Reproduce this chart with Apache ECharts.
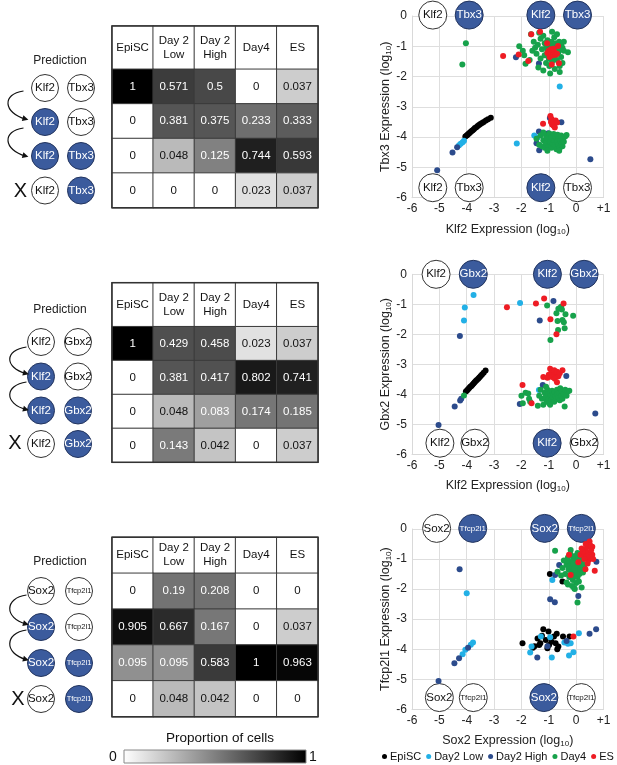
<!DOCTYPE html>
<html><head><meta charset="utf-8">
<script src="https://cdn.jsdelivr.net/npm/echarts@6/dist/echarts.min.js"></script>
<style>html,body{margin:0;padding:0;background:#fff}#c{width:617px;height:765px}</style>
</head><body><div id="c"></div><script>
// ---------------- DATA ----------------
const stages = ['EpiSC', 'Day 2\nLow', 'Day 2\nHigh', 'Day4', 'ES'];
const rowsCat = ['r0', 'r1', 'r2', 'r3'];
const geneA = ['Klf2', 'Klf2', 'Sox2'];
const geneB = ['Tbx3', 'Gbx2', 'Tfcp2l1'];
const predStates = [[0, 0], [1, 0], [1, 1], [0, 1]];
const table1 = [[1, 0.571, 0.5, 0, 0.037], [0, 0.381, 0.375, 0.233, 0.333], [0, 0.048, 0.125, 0.744, 0.593], [0, 0, 0, 0.023, 0.037]];
const table2 = [[1, 0.429, 0.458, 0.023, 0.037], [0, 0.381, 0.417, 0.802, 0.741], [0, 0.048, 0.083, 0.174, 0.185], [0, 0.143, 0.042, 0, 0.037]];
const table3 = [[0, 0.19, 0.208, 0, 0], [0.905, 0.667, 0.167, 0, 0.037], [0.095, 0.095, 0.583, 1, 0.963], [0, 0.048, 0.042, 0, 0]];
const groups = ['EpiSC', 'Day2 Low', 'Day2 High', 'Day4', 'ES'];
const xTickValues = [-6, -5, -4, -3, -2, -1, 0, 1];
const colorbarLabels = ['0', '1'];

// Plot 1: Klf2 vs Tbx3
const p1EpiSC = [[-4.05,-3.98],[-4.0,-3.95],[-3.97,-3.92],[-3.93,-3.89],[-3.9,-3.86],[-3.86,-3.83],[-3.82,-3.8],[-3.78,-3.77],[-3.74,-3.74],[-3.7,-3.7],[-3.65,-3.67],[-3.6,-3.63],[-3.55,-3.6],[-3.5,-3.57],[-3.44,-3.53],[-3.38,-3.5],[-3.3,-3.45],[-3.22,-3.41],[-3.12,-3.36]];
const p1Day2Low = [[-4.1,-4.12],[-4.15,-4.17],[-4.22,-4.22],[-4.28,-4.27],[-0.6,-2.33],[-1.53,-3.95],[-1.42,-4.02],[-2.17,-4.21]];
const p1Day2High = [[-4.35,-4.33],[-4.52,-4.51],[-5.08,-5.09],[0.52,-4.73],[-2.2,-1.36],[-1.36,-1.57],[-0.96,-3.37],[-0.54,-3.51],[-1.36,-3.81],[-1.02,-3.87],[-1.45,-4.2],[-1.35,-4.43]];
const p1Day4 = [[-4.03,-0.9],[-4.16,-1.6],
 [-2.08,-1.0],[-1.95,-1.15],[-1.9,-1.3],[-1.85,-1.58],[-1.7,-1.45],[-1.6,-1.15],[-1.55,-0.85],[-1.5,-1.05],[-1.45,-1.25],[-1.4,-0.95],[-1.38,-1.7],[-1.3,-0.75],[-1.3,-1.4],[-1.25,-1.1],[-1.2,-0.65],[-1.2,-1.8],[-1.15,-0.9],[-1.15,-1.3],[-1.1,-1.05],[-1.1,-1.55],[-1.05,-0.8],[-1.05,-1.2],[-1.0,-0.95],[-1.0,-1.4],[-0.98,-1.65],[-0.95,-1.1],[-0.95,-1.9],[-0.9,-0.85],[-0.9,-1.25],[-0.88,-1.5],[-0.85,-1.0],[-0.82,-1.15],[-0.8,-0.7],[-0.8,-1.35],[-0.78,-1.75],[-0.75,-0.9],[-0.75,-1.1],[-0.72,-1.25],[-0.7,-0.6],[-0.7,-1.45],[-0.68,-1.0],[-0.65,-1.2],[-0.62,-0.85],[-0.6,-1.65],[-0.6,-1.85],[-0.58,-1.1],[-0.55,-0.95],[-0.55,-1.35],[-0.5,-1.05],[-0.5,-1.55],[-0.45,-0.85],[-0.45,-1.15],[-0.3,-1.2],[-1.65,-0.6],[-1.35,-0.55],[-0.88,-0.52],
 [-1.45,-4.05],[-1.35,-4.25],[-1.3,-3.95],[-1.25,-4.3],[-1.2,-4.1],[-1.15,-4.35],[-1.1,-3.95],[-1.1,-4.2],[-1.05,-4.05],[-1.0,-4.3],[-0.98,-3.88],[-0.95,-4.15],[-0.9,-4.0],[-0.9,-4.35],[-0.85,-4.22],[-0.82,-3.9],[-0.8,-4.1],[-0.78,-4.28],[-0.75,-4.0],[-0.72,-4.4],[-0.7,-4.15],[-0.68,-3.92],[-0.65,-4.25],[-0.62,-4.05],[-0.6,-4.35],[-0.58,-4.12],[-0.55,-3.95],[-0.52,-4.2],[-0.5,-4.3],[-0.48,-4.05],[-0.45,-4.15],[-0.4,-3.98],[-0.35,-3.93],[-1.2,-3.85],[-1.05,-4.45],[-0.62,-4.45]];
const p1ES = [[-2.67,-1.32],[-2.1,-1.27],[-1.75,-1.49],[-1.64,-0.6],[-1.32,-0.52],[-1.06,-0.9],[-0.66,-0.99],[-0.89,-1.6],[-0.63,-1.56],[-1.0,-1.15],[-0.95,-1.25],[-0.9,-1.2],[-0.85,-1.3],[-0.8,-1.2],[-0.92,-1.1],[-0.75,-1.28],[-1.05,-1.22],[-0.82,-1.08],[-0.97,-1.35],[-0.7,-1.25],
 [-0.94,-3.3],[-0.9,-3.4],[-0.85,-3.48],[-0.8,-3.55],[-1.21,-3.56],[-0.75,-3.45],[-0.88,-3.58],[-0.82,-3.62],[-0.7,-3.52],[-0.78,-3.68],[-0.92,-3.5]];

// Plot 2: Klf2 vs Gbx2
const p2EpiSC = [[-4.03,-3.91],[-3.99,-3.87],[-3.95,-3.83],[-3.91,-3.79],[-3.87,-3.75],[-3.83,-3.72],[-3.79,-3.68],[-3.75,-3.64],[-3.71,-3.6],[-3.67,-3.56],[-3.63,-3.52],[-3.58,-3.48],[-3.54,-3.44],[-3.49,-3.39],[-3.44,-3.34],[-3.38,-3.28],[-3.31,-3.21]];
const p2Day2Low = [[-3.75,-0.69],[-4.07,-1.11],[-4.1,-1.54],[-2.05,-0.96],[-1.36,-3.86]];
const p2Day2High = [[-4.25,-2.06],[-0.83,-0.89],[-1.33,-1.54],[-4.44,-4.41],[-4.24,-4.21],[-4.2,-4.15],[-5.03,-5.02],[0.7,-4.64],[-0.36,-3.39],[-1.22,-3.69],[-2.06,-4.32]];
const p2Day4 = [[-4.1,-4.04],
 [-1.06,-1.04],[-0.6,-1.13],[-0.55,-1.08],[-0.52,-1.17],[-0.72,-1.3],[-0.39,-1.33],[-0.11,-1.38],[-0.5,-1.52],[-0.68,-1.56],[-0.42,-1.8],[-0.66,-1.86],[-0.94,-2.19],[-0.65,-1.15],[-0.45,-1.6],
 [-2.0,-4.05],[-1.95,-4.3],[-1.85,-3.95],[-1.75,-3.97],[-1.72,-4.15],[-1.68,-4.25],[-1.4,-4.38],[-1.3,-3.85],[-1.25,-4.15],[-1.2,-4.35],[-1.15,-3.95],[-1.12,-4.1],[-1.08,-4.25],[-1.05,-3.85],[-1.02,-4.0],[-1.0,-4.15],[-0.98,-4.3],[-0.95,-3.95],[-0.92,-4.05],[-0.9,-4.2],[-0.88,-3.88],[-0.85,-4.1],[-0.82,-4.0],[-0.8,-4.25],[-0.78,-3.92],[-0.75,-4.05],[-0.72,-4.15],[-0.7,-3.85],[-0.68,-4.0],[-0.65,-4.1],[-0.62,-3.95],[-0.6,-4.2],[-0.58,-3.8],[-0.55,-4.05],[-0.52,-3.9],[-0.5,-4.15],[-0.45,-4.0],[-0.42,-4.41],[-0.4,-3.85],[-0.35,-4.05],[-0.3,-3.9],[-0.25,-3.88],[-1.1,-3.75],[-0.95,-4.35],[-1.35,-4.05]];
const p2ES = [[-2.53,-1.1],[-1.47,-0.97],[-1.17,-0.81],[-0.46,-0.97],[-0.94,-1.5],[-0.72,-2.0],
 [-0.95,-3.15],[-0.9,-3.22],[-0.85,-3.3],[-0.8,-3.2],[-0.75,-3.35],[-0.7,-3.25],[-0.65,-3.4],[-1.0,-3.35],[-1.05,-3.45],[-0.88,-3.42],[-0.78,-3.48],[-0.6,-3.3],[-1.2,-3.42],[-0.5,-3.2],[-1.96,-3.69],[-1.63,-4.3],[-0.7,-3.6]];

// Plot 3: Sox2 vs Tfcp2l1
const p3EpiSC = [[-0.96,-1.5],[-0.5,-1.75],[-1.96,-3.8],[-1.58,-3.95],[-1.52,-3.9],[-1.41,-3.64],[-1.31,-3.8],[-1.2,-3.34],[-1.01,-3.41],[-1.11,-3.69],[-0.99,-3.86],[-0.81,-3.58],[-0.75,-3.8],[-0.71,-3.49],[-0.65,-3.91],[-0.48,-3.58],[-0.24,-3.58],[-1.05,-3.97],[-0.69,-4.0],[-1.35,-3.86],[-0.9,-3.75],[-1.25,-3.55]];
const p3Day2Low = [[-4.0,-2.14],[-3.77,-3.78],[-3.85,-3.85],[-4.05,-4.02],[-4.15,-4.17],[-1.68,-4.11],[-1.63,-3.91],[-1.29,-3.58],[-0.89,-4.28],[-0.87,-1.7],[-0.26,-4.21],[-0.1,-4.1],[0.1,-3.47],[-0.2,-3.8],[-0.43,-3.78],[-0.3,-3.82],[-0.95,-3.6]];
const p3Day2High = [[-4.26,-1.34],[-5.03,-5.06],[-4.45,-4.47],[-3.95,-3.95],[-4.28,-4.3],[-0.62,-1.2],[-0.77,-1.53],[-0.95,-2.34],[-0.78,-2.44],[0.08,-2.23],[0.74,-1.09],[0.73,-3.34],[0.49,-3.49],[-1.42,-4.28],[-0.35,-3.73],[-0.15,-1.45],[-1.05,-3.9]];
const p3Day4 = [[-0.77,-0.72],[-0.68,-1.42],[-0.35,-1.78],[-0.07,-1.97],[0.2,-1.95],[0.05,-2.45],[-0.4,-1.5],[-0.35,-1.2],[-0.3,-0.95],[-0.28,-1.35],[-0.25,-1.6],[-0.22,-1.1],[-0.2,-0.85],[-0.18,-1.45],[-0.15,-1.25],[-0.12,-1.7],[-0.1,-1.0],[-0.08,-1.35],[-0.05,-1.55],[-0.03,-0.9],[0.0,-1.15],[0.0,-1.8],[0.02,-1.4],[0.05,-1.05],[0.05,-1.6],[0.08,-1.25],[0.1,-0.95],[0.12,-1.5],[0.15,-1.15],[0.15,-1.35],[0.18,-0.85],[0.2,-1.05],[0.22,-1.25],[0.25,-1.45],[0.28,-0.95],[-0.45,-1.05],[-0.5,-1.3],[-0.3,-1.85],[-0.15,-1.9],[-0.05,-2.0],[0.1,-1.75],[-0.55,-1.55],[-0.2,-0.7],[-0.25,-1.25],[-0.1,-1.15],[-0.05,-1.3],[0.05,-0.8],[-0.35,-1.05],[0.3,-1.2]];
const p3ES = [[-0.1,-3.58],[0.49,-0.42],[0.59,-0.59],[0.34,-0.7],[0.28,-0.86],[0.59,-0.86],[0.68,-1.39],[0.34,-1.34],[0.08,-1.11],[0.16,-0.86],[-0.26,-0.86],[-0.2,-1.53],[0.46,-1.03],[0.4,-0.6],[0.45,-0.8],[0.5,-0.95],[0.55,-0.7],[0.38,-0.92],[0.3,-1.0],[0.25,-0.75],[0.62,-1.0],[0.42,-1.15],[0.2,-0.65],[0.52,-0.55],[0.35,-0.5]];

// ---------------- LAYOUT / STYLE ----------------
const FONT = 'Liberation Sans, Arial, sans-serif';
const BLUE = '#3b5b9d', BLUE_BORDER = '#22345e';
const groupColors = ['#000000', '#22b0e6', '#2c4b8c', '#17a24b', '#ee1c24'];
const tableLayout = [
  { headTop: 26, headH: 43.3, bodyTop: 69.3, bodyH: 138.4 },
  { headTop: 282.7, headH: 44, bodyTop: 326.7, bodyH: 135.6 },
  { headTop: 537.3, headH: 36, bodyTop: 573.3, bodyH: 143.4 }
];
const tableLeft = 112, tableW = 206;
const scatterLayout = [{ top: 16, h: 181.7 }, { top: 274.3, h: 180 }, { top: 529, h: 180.3 }];
const scatterLeft = 412, scatterW = 191.5;
const predLayout = [
  { pred: [60, 61], cx: [45, 81], ys: [88, 122, 156, 190.5], arrows: [[23.5, 91, 25.5, 119], [23.5, 128, 25.5, 156]], X: [20.5, 191] },
  { pred: [60, 310], cx: [41, 78], ys: [342, 376.5, 410.5, 444], arrows: [[26.5, 347, 26, 373.5], [26.5, 382, 26, 409.5]], X: [15, 443] },
  { pred: [60, 562], cx: [41, 79], ys: [591, 627, 663, 699], arrows: [[26.5, 595, 26, 624], [26.5, 630, 26, 659.5]], X: [18, 699] }
];
const nodeLayout = [
  [[-5.24, 0.03, 0, 0], [-3.91, 0.03, 1, 1], [-1.29, 0.03, 0, 1], [0.05, 0.03, 1, 1], [-5.24, -5.67, 0, 0], [-3.91, -5.67, 1, 0], [-1.29, -5.67, 0, 1], [0.05, -5.67, 1, 0]],
  [[-5.12, 0, 0, 0], [-3.76, 0, 1, 1], [-1.05, 0, 0, 1], [0.29, 0, 1, 1], [-4.98, -5.63, 0, 0], [-3.7, -5.63, 1, 0], [-1.06, -5.63, 0, 1], [0.29, -5.63, 1, 0]],
  [[-5.1, 0.02, 0, 0], [-3.78, 0.02, 1, 1], [-1.15, 0.02, 0, 1], [0.19, 0.02, 1, 1], [-5.0, -5.61, 0, 0], [-3.76, -5.61, 1, 0], [-1.18, -5.61, 0, 1], [0.19, -5.61, 1, 0]]
];

// gray ramp (non-linear, as in the reference cells)
const gStops = [[0,255],[0.023,225],[0.037,205],[0.048,185],[0.083,160],[0.1,138],[0.143,122],[0.2,114],[0.25,108],[0.333,92],[0.4,82],[0.5,72],[0.6,55],[0.67,42],[0.75,30],[0.85,20],[0.95,8],[1,0]];
function grayAt(v) {
  for (let i = 1; i < gStops.length; i++) {
    if (v <= gStops[i][0]) {
      const a = gStops[i - 1], b = gStops[i];
      const t = (v - a[0]) / (b[0] - a[0]);
      return Math.round(a[1] + t * (b[1] - a[1]));
    }
  }
  return 0;
}
const cellRamp = [];
for (let i = 0; i <= 200; i++) { const g = grayAt(i / 200); cellRamp.push('rgb(' + g + ',' + g + ',' + g + ')'); }

const tables = [table1, table2, table3];
const scatterSets = [
  [p1EpiSC, p1Day2Low, p1Day2High, p1Day4, p1ES],
  [p2EpiSC, p2Day2Low, p2Day2High, p2Day4, p2ES],
  [p3EpiSC, p3Day2Low, p3Day2High, p3Day4, p3ES]
];
const xNames = ['Klf2', 'Klf2', 'Sox2'];
const yNames = ['Tbx3', 'Gbx2', 'Tfcp2l1'];

const grid = [], xAxis = [], yAxis = [], series = [];
const bodySeriesIdx = [];
function catAxis(gi, data, inverse) {
  return { type: 'category', gridIndex: gi, data: data, inverse: !!inverse, axisLine: { show: false }, axisTick: { show: false }, axisLabel: { show: false }, splitLine: { show: false } };
}
const richName = { a: { fontSize: 12.5, color: '#222', fontFamily: FONT, lineHeight: 16, verticalAlign: 'bottom' }, b: { fontSize: 8, color: '#222', fontFamily: FONT, lineHeight: 12, verticalAlign: 'bottom' } };

for (let t = 0; t < 3; t++) {
  const L = tableLayout[t];
  let gi = grid.length;
  grid.push({ left: tableLeft, top: L.headTop, width: tableW, height: L.headH });
  xAxis.push(catAxis(gi, stages));
  yAxis.push(catAxis(gi, ['h']));
  series.push({
    type: 'heatmap', xAxisIndex: gi, yAxisIndex: gi,
    data: stages.map((s, i) => [i, 0, 0]),
    itemStyle: { color: '#ffffff', borderColor: '#3a3a3a', borderWidth: 1 },
    label: { show: true, formatter: p => stages[p.value[0]], color: '#111', fontSize: 11.5, lineHeight: 14, fontFamily: FONT },
    emphasis: { disabled: true }
  });
  gi = grid.length;
  grid.push({ left: tableLeft, top: L.bodyTop, width: tableW, height: L.bodyH });
  xAxis.push(catAxis(gi, stages));
  yAxis.push(catAxis(gi, rowsCat, true));
  const data = [];
  tables[t].forEach((row, r) => row.forEach((v, c) => {
    data.push({ value: [c, r, v], label: { color: v > 0.06 ? '#ffffff' : '#111111' } });
  }));
  bodySeriesIdx.push(series.length);
  series.push({
    type: 'heatmap', xAxisIndex: gi, yAxisIndex: gi, data: data,
    itemStyle: { borderColor: '#3a3a3a', borderWidth: 1 },
    label: { show: true, formatter: p => String(p.value[2]), fontSize: 11.5, fontFamily: FONT },
    emphasis: { disabled: true }
  });
}

for (let s = 0; s < 3; s++) {
  const L = scatterLayout[s];
  const gi = grid.length;
  grid.push({ left: scatterLeft, top: L.top, width: scatterW, height: L.h });
  xAxis.push({
    type: 'value', gridIndex: gi, min: xTickValues[0], max: xTickValues[xTickValues.length - 1], interval: 1,
    axisLine: { show: true, onZero: false, lineStyle: { color: '#d9d9d9' } }, axisTick: { show: false },
    splitLine: { show: true, lineStyle: { color: '#dedede' } },
    axisLabel: { formatter: v => (v > 0 ? '+' + v : String(v)), color: '#222', fontSize: 12, fontFamily: FONT, margin: 5 },
    name: '{a|' + xNames[s] + ' Expression (log}{b|10}{a|)}', nameLocation: 'middle', nameGap: 22,
    nameTextStyle: { rich: richName }
  });
  yAxis.push({
    type: 'value', gridIndex: gi, min: -6, max: 0, interval: 1,
    axisLine: { show: true, onZero: false, lineStyle: { color: '#d9d9d9' } }, axisTick: { show: false },
    splitLine: { show: true, lineStyle: { color: '#dedede' } },
    axisLabel: { color: '#222', fontSize: 12, fontFamily: FONT, margin: 5 },
    name: '{a|' + yNames[s] + ' Expression (log}{b|10}{a|)}', nameLocation: 'middle', nameGap: 19, nameRotate: 90,
    nameTextStyle: { rich: richName }
  });
  series.push({
    type: 'scatter', xAxisIndex: gi, yAxisIndex: gi, symbolSize: 28, clip: false, silent: true, z: 1,
    data: nodeLayout[s].map(n => {
      const label = n[2] === 0 ? xNames[s] : yNames[s];
      const filled = n[3] === 1;
      return {
        value: [n[0], n[1]], name: label,
        itemStyle: { color: filled ? BLUE : '#ffffff', opacity: 1, borderColor: filled ? BLUE_BORDER : '#333333', borderWidth: 1 },
        label: { color: filled ? '#ffffff' : '#111111', fontSize: label.length > 5 ? 8 : 11.5 }
      };
    }),
    label: { show: true, position: 'inside', formatter: p => p.name, fontFamily: FONT }
  });
  groups.forEach((g, k) => {
    series.push({
      type: 'scatter', name: g, xAxisIndex: gi, yAxisIndex: gi, symbolSize: 6, z: 3,
      itemStyle: { color: groupColors[k], opacity: 1 },
      data: scatterSets[s][k]
    });
  });
}

// ---------------- GRAPHICS ----------------
const graphics = [];
for (let t = 0; t < 3; t++) {
  const P = predLayout[t];
  graphics.push({ type: 'text', x: P.pred[0], y: P.pred[1], style: { text: 'Prediction', fill: '#222', font: '12px ' + FONT, textAlign: 'center', textVerticalAlign: 'middle' } });
  predStates.forEach((st, r) => {
    [0, 1].forEach(k => {
      const filled = st[k] === 1;
      const name = k === 0 ? geneA[t] : geneB[t];
      graphics.push({ type: 'circle', shape: { cx: P.cx[k], cy: P.ys[r], r: 13.5 }, style: { fill: filled ? BLUE : '#fff', stroke: filled ? BLUE_BORDER : '#333', lineWidth: 1 } });
      graphics.push({ type: 'text', x: P.cx[k], y: P.ys[r], style: { text: name, fill: filled ? '#fff' : '#111', font: (name.length > 5 ? '7.5px ' : '11.5px ') + FONT, textAlign: 'center', textVerticalAlign: 'middle' } });
    });
  });
  P.arrows.forEach(a => {
    const [x0, y0, x1, y1] = a;
    const c1 = [x0 - 22, y0 + 3], c2 = [x1 - 22, y1 - 6];
    graphics.push({ type: 'bezierCurve', shape: { x1: x0, y1: y0, x2: x1, y2: y1, cpx1: c1[0], cpy1: c1[1], cpx2: c2[0], cpy2: c2[1] }, style: { stroke: '#111', lineWidth: 1.2, fill: null } });
    const dx = x1 - c2[0], dy = y1 - c2[1], len = Math.hypot(dx, dy);
    const ux = dx / len, uy = dy / len, px = -uy, py = ux;
    const tip = [x1 + ux * 3, y1 + uy * 3];
    graphics.push({ type: 'polygon', shape: { points: [tip, [tip[0] - ux * 6 + px * 3, tip[1] - uy * 6 + py * 3], [tip[0] - ux * 6 - px * 3, tip[1] - uy * 6 - py * 3]] }, style: { fill: '#111' } });
  });
  graphics.push({ type: 'text', x: P.X[0], y: P.X[1], style: { text: 'X', fill: '#111', font: '20px ' + FONT, textAlign: 'center', textVerticalAlign: 'middle' } });
  const L = tableLayout[t];
  graphics.push({ type: 'rect', shape: { x: tableLeft, y: L.headTop, width: tableW, height: L.bodyTop + L.bodyH - L.headTop }, style: { fill: null, stroke: '#333', lineWidth: 1.5 }, z: 100 });
}
// colour bar
graphics.push({ type: 'text', x: 220, y: 738, style: { text: 'Proportion of cells', fill: '#111', font: '13.5px ' + FONT, textAlign: 'center', textVerticalAlign: 'middle' } });
graphics.push({ type: 'rect', shape: { x: 124, y: 750, width: 182, height: 13 }, style: {
  fill: { type: 'linear', x: 0, y: 0, x2: 1, y2: 0, colorStops: [{ offset: 0, color: '#ffffff' }, { offset: 1, color: '#000000' }] },
  stroke: '#888', lineWidth: 1 }, z: 100 });
graphics.push({ type: 'text', x: 113, y: 757, style: { text: colorbarLabels[0], fill: '#111', font: '14px ' + FONT, textAlign: 'center', textVerticalAlign: 'middle' } });
graphics.push({ type: 'text', x: 313, y: 757, style: { text: colorbarLabels[1], fill: '#111', font: '14px ' + FONT, textAlign: 'center', textVerticalAlign: 'middle' } });

const option = {
  animation: false,
  backgroundColor: '#ffffff',
  textStyle: { fontFamily: FONT },
  grid: grid, xAxis: xAxis, yAxis: yAxis, series: series,
  visualMap: [
    { type: 'continuous', show: false, min: 0, max: 1, seriesIndex: bodySeriesIdx, dimension: 2, inRange: { color: cellRamp } }
  ],
  legend: {
    data: groups, left: 382, top: 751, icon: 'circle', itemWidth: 5, itemHeight: 5, itemGap: 5, padding: 0,
    textStyle: { fontSize: 11, color: '#111', fontFamily: FONT, padding: [0, 0, 0, -2] }, selectedMode: false
  },
  graphic: graphics
};
const chart = echarts.init(document.getElementById('c'), null, { renderer: 'canvas' });
chart.setOption(option);
</script></body></html>
